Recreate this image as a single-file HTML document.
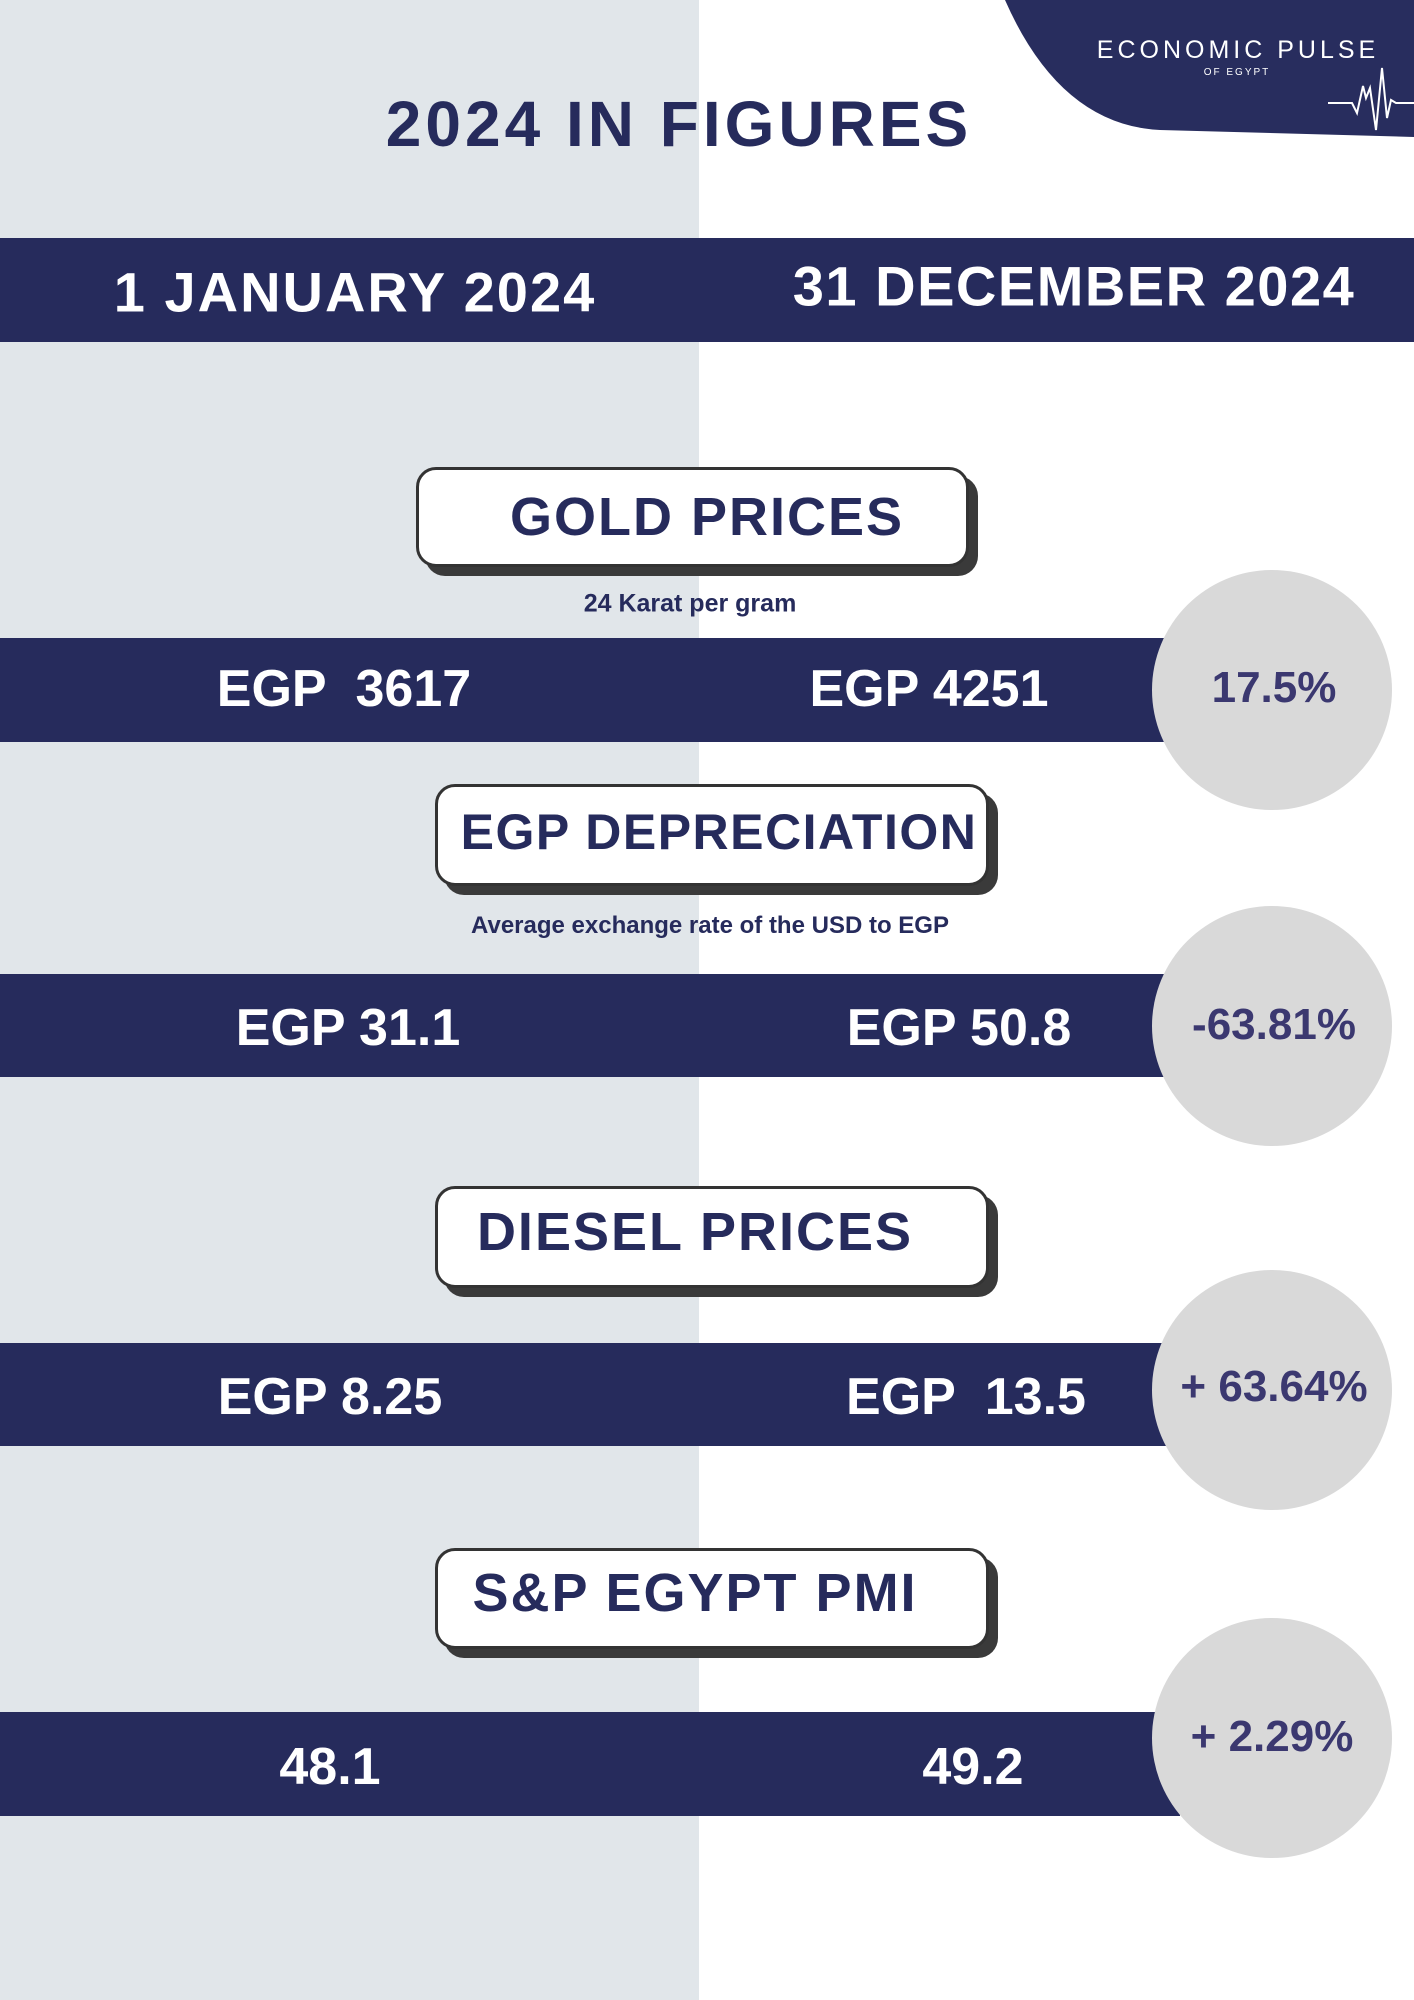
<!DOCTYPE html>
<html><head><meta charset="utf-8"><style>
*{margin:0;padding:0;box-sizing:border-box}
body{width:1414px;height:2000px;position:relative;background:#fff;font-family:"Liberation Sans",sans-serif;overflow:hidden}
.abs{position:absolute}
.gray{left:0;top:0;width:699px;height:2000px;background:#e1e6ea}
.bar{left:0;width:1180px;background:#262b5c}
.t{position:absolute;transform:translate(-50%,-50%);white-space:nowrap;font-weight:bold}
.w{color:#fff}
.n{color:#262b5c}
.box{position:absolute;background:#fff;border:3px solid #333;border-radius:20px;box-shadow:9px 9px 0 #3a3a3a}
.circ{position:absolute;width:240px;height:240px;border-radius:50%;background:#d9d9d9}
.p{color:#3b3870;font-size:44px}
</style></head><body>
<div class="abs gray"></div>
<svg class="abs" style="left:0;top:0" width="1414" height="140">
<path d="M1005 0 L1414 0 L1414 137 L1160 130 Q1060 125 1005 0Z" fill="#282d5e"/>
<polyline points="1328,103 1352,103 1357,113 1363,86 1366,98 1370,88 1376,130 1382,68 1387,118 1391,100 1396,103 1414,103" fill="none" stroke="#fff" stroke-width="2"/>
<text x="1238" y="58" fill="#fff" font-family="Liberation Sans" font-size="25" letter-spacing="4" text-anchor="middle">ECONOMIC PULSE</text>
<text x="1237" y="75" fill="#fff" font-family="Liberation Sans" font-size="10" letter-spacing="2" text-anchor="middle">OF EGYPT</text>
</svg>
<div class="t n" style="left:679px;top:124px;font-size:64px;letter-spacing:4px">2024 IN FIGURES</div>
<div class="abs bar" style="top:238px;height:104px;width:1414px"></div>
<div class="t w" style="left:355px;top:292px;font-size:56px;letter-spacing:2px">1 JANUARY 2024</div>
<div class="t w" style="left:1074px;top:286px;font-size:56px;letter-spacing:1.5px">31 DECEMBER 2024</div>

<div class="box" style="left:416px;top:467px;width:553px;height:100px"></div>
<div class="t n" style="left:707px;top:517px;font-size:54px;letter-spacing:2px">GOLD PRICES</div>
<div class="t n" style="left:690px;top:604px;font-size:25px">24 Karat per gram</div>
<div class="abs bar" style="top:638px;height:104px"></div>
<div class="t w" style="left:344px;top:689px;font-size:52px">EGP&nbsp; 3617</div>
<div class="t w" style="left:929px;top:689px;font-size:52px">EGP 4251</div>
<div class="circ" style="left:1152px;top:570px"></div>
<div class="t p" style="left:1274px;top:688px">17.5%</div>

<div class="box" style="left:435px;top:784px;width:554px;height:102px"></div>
<div class="t n" style="left:719px;top:832px;font-size:50px;letter-spacing:1.5px">EGP DEPRECIATION</div>
<div class="t n" style="left:710px;top:926px;font-size:24px">Average exchange rate of the USD to EGP</div>
<div class="abs bar" style="top:974px;height:103px"></div>
<div class="t w" style="left:348px;top:1028px;font-size:52px">EGP 31.1</div>
<div class="t w" style="left:959px;top:1028px;font-size:52px">EGP 50.8</div>
<div class="circ" style="left:1152px;top:906px"></div>
<div class="t p" style="left:1274px;top:1025px">-63.81%</div>

<div class="box" style="left:435px;top:1186px;width:554px;height:102px"></div>
<div class="t n" style="left:695px;top:1232px;font-size:54px;letter-spacing:2px">DIESEL PRICES</div>
<div class="abs bar" style="top:1343px;height:103px"></div>
<div class="t w" style="left:330px;top:1397px;font-size:52px">EGP 8.25</div>
<div class="t w" style="left:966px;top:1397px;font-size:52px">EGP&nbsp; 13.5</div>
<div class="circ" style="left:1152px;top:1270px"></div>
<div class="t p" style="left:1274px;top:1387px">+ 63.64%</div>

<div class="box" style="left:435px;top:1548px;width:554px;height:101px"></div>
<div class="t n" style="left:695px;top:1593px;font-size:54px;letter-spacing:2px">S&amp;P EGYPT PMI</div>
<div class="abs bar" style="top:1712px;height:104px"></div>
<div class="t w" style="left:330px;top:1767px;font-size:52px">48.1</div>
<div class="t w" style="left:973px;top:1767px;font-size:52px">49.2</div>
<div class="circ" style="left:1152px;top:1618px"></div>
<div class="t p" style="left:1272px;top:1737px">+ 2.29%</div>
</body></html>
